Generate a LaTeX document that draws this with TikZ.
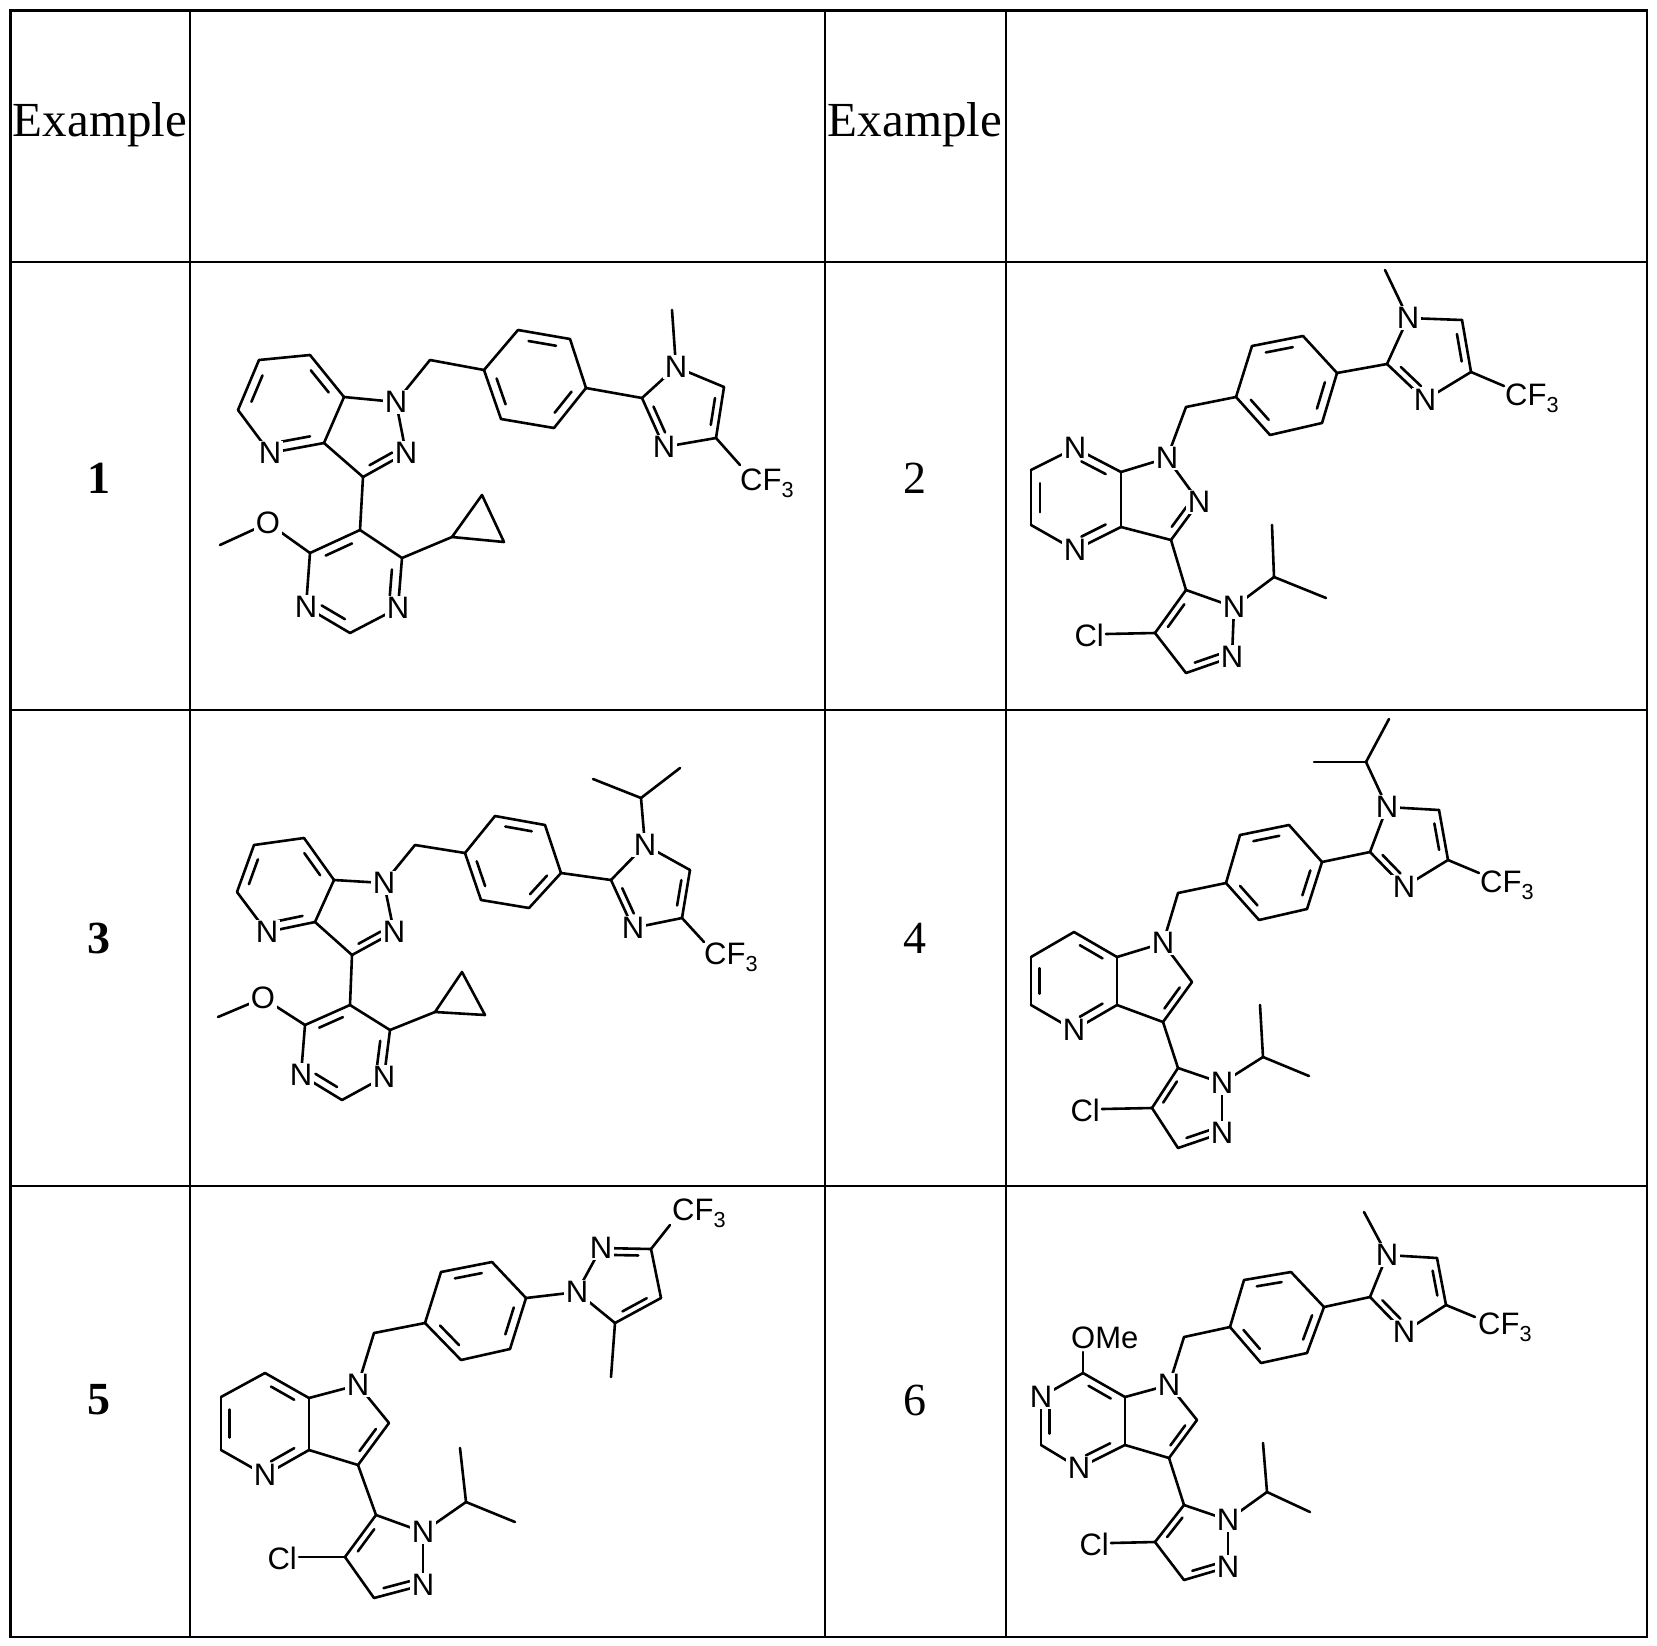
\documentclass[tikz,border=0pt]{standalone}
\usepackage{fontspec}
\setmainfont{Liberation Serif}
\setsansfont{Liberation Sans}
\usetikzlibrary{calc}
\tikzset{bond/.style={line width=2.6pt,line cap=round,line join=round},
 atom/.style={fill=white,inner sep=1.8pt,font=\sffamily\fontsize{31}{31}\selectfont},
 grp/.style={inner sep=0pt,font=\sffamily\fontsize{31}{31}\selectfont},
 hdr/.style={font=\fontsize{49}{49}\selectfont},
 num/.style={font=\fontsize{46}{46}\selectfont},
 grid/.style={line width=2.8pt}}
\newcommand\bnd[2]{\draw[bond] (#1)--(#2);}
\newcommand\dbd[3]{\draw[bond] (#1)--(#2);\draw[bond] ($($(#1)!0.17!(#2)$)!0.2!(#3)$)--($($(#1)!0.83!(#2)$)!0.2!(#3)$);}
\newcommand\lab[2]{\node[atom] (#1L) at (#1) {#2};}
\newcommand\pt[3]{\coordinate (#1) at (#2,#3);}
% type A (examples 1,3)
\newcommand\bondsA[1]{%
 \coordinate (#1cA) at (barycentric cs:#1a1=1,#1a2=1,#1a3=1,#1a4=1,#1a5=1,#1a6=1);
 \coordinate (#1cB) at (barycentric cs:#1a6=1,#1a7=1,#1a8=1,#1a9=1,#1a5=1);
 \coordinate (#1cC) at (barycentric cs:#1b1=1,#1b2=1,#1b3=1,#1b4=1,#1b5=1,#1b6=1);
 \coordinate (#1cE) at (barycentric cs:#1p1=1,#1p2=1,#1p3=1,#1p4=1,#1p5=1,#1p6=1);
 \dbd{#1a1}{#1a6}{#1cA}\bnd{#1a1}{#1a2}\dbd{#1a2}{#1a3}{#1cA}\bnd{#1a3}{#1a4}\dbd{#1a4}{#1a5}{#1cA}\bnd{#1a5}{#1a6}
 \bnd{#1a6}{#1a7}\bnd{#1a7}{#1a8}\dbd{#1a8}{#1a9}{#1cB}\bnd{#1a9}{#1a5}
 \bnd{#1a7}{#1a10}\bnd{#1a10}{#1b1}
 \bnd{#1b1}{#1b2}\dbd{#1b2}{#1b3}{#1cC}\bnd{#1b3}{#1b4}\dbd{#1b4}{#1b5}{#1cC}\bnd{#1b5}{#1b6}\dbd{#1b6}{#1b1}{#1cC}
 \bnd{#1a9}{#1p1}
 \dbd{#1p1}{#1p2}{#1cE}\bnd{#1p2}{#1p3}\dbd{#1p3}{#1p4}{#1cE}\bnd{#1p4}{#1p5}\dbd{#1p5}{#1p6}{#1cE}\bnd{#1p6}{#1p1}
 \bnd{#1p2}{#1O}\bnd{#1O}{#1ome}\bnd{#1p6}{#1cp1}\draw[bond] (#1cp1)--(#1cp2)--(#1cp3)--cycle;}
\newcommand\labsA[1]{\lab{#1a4}{N}\lab{#1a7}{N}\lab{#1a8}{N}\lab{#1p3}{N}\lab{#1p5}{N}\lab{#1O}{O}}
% type B (examples 2,4,5,6)
\newcommand\bondsB[1]{%
 \coordinate (#1cs) at (barycentric cs:#1s1=1,#1s2=1,#1s3=1,#1s4=1,#1s5=1,#1s6=1);
 \coordinate (#1cf) at (barycentric cs:#1s5=1,#1s6=1,#1f1=1,#1f2=1,#1f3=1);
 \coordinate (#1cb) at (barycentric cs:#1b1=1,#1b2=1,#1b3=1,#1b4=1,#1b5=1,#1b6=1);
 \coordinate (#1cq) at (barycentric cs:#1q1=1,#1q2=1,#1q3=1,#1q4=1,#1q5=1);
 \dbd{#1s1}{#1s6}{#1cs}\bnd{#1s1}{#1s2}\dbd{#1s2}{#1s3}{#1cs}\bnd{#1s3}{#1s4}\dbd{#1s4}{#1s5}{#1cs}\bnd{#1s5}{#1s6}
 \bnd{#1s6}{#1f1}\bnd{#1f1}{#1f2}\dbd{#1f2}{#1f3}{#1cf}\bnd{#1f3}{#1s5}
 \bnd{#1f1}{#1ch}\bnd{#1ch}{#1b1}
 \bnd{#1b1}{#1b2}\dbd{#1b2}{#1b3}{#1cb}\bnd{#1b3}{#1b4}\dbd{#1b4}{#1b5}{#1cb}\bnd{#1b5}{#1b6}\dbd{#1b6}{#1b1}{#1cb}
 \bnd{#1f3}{#1q1}
 \dbd{#1q1}{#1q5}{#1cq}\bnd{#1q1}{#1q2}\bnd{#1q2}{#1q3}\dbd{#1q3}{#1q4}{#1cq}\bnd{#1q4}{#1q5}
 \bnd{#1q5}{#1clb}\bnd{#1q2}{#1ip}\bnd{#1ip}{#1up}\bnd{#1ip}{#1rt}}
\newcommand\labsB[1]{\lab{#1f1}{N}\lab{#1q2}{N}\lab{#1q3}{N}\node[grp,anchor=east] (#1Cl) at ($(#1clb)+(-2,1)$) {Cl};}
% imidazole
\newcommand\bondsI[1]{%
 \coordinate (#1ci) at (barycentric cs:#1i1=1,#1i2=1,#1i3=1,#1i4=1,#1i5=1);
 \bnd{#1b4}{#1i1}\bnd{#1i1}{#1i2}\bnd{#1i2}{#1i3}\dbd{#1i3}{#1i4}{#1ci}\bnd{#1i4}{#1i5}\dbd{#1i5}{#1i1}{#1ci}\bnd{#1i4}{#1cfb}}
\newcommand\labsI[1]{\lab{#1i2}{N}\lab{#1i5}{N}\node[grp,anchor=west] (#1CF) at (#1cft) {CF\textsubscript{3}};}
\begin{document}
\begin{tikzpicture}[x=1pt,y=-1pt]
\useasboundingbox (0,0) rectangle (1657,1646);
\fill[white] (0,0) rectangle (1657,1646);
% table
\draw[grid] (10.6,10.6) rectangle (1647,1637);
\foreach \x in {190,825,1006} \draw[grid] (\x,10.6)--(\x,1637);
\foreach \y in {262,710,1186} \draw[grid] (10.6,\y)--(1647,\y);
\node[hdr] (h1) at (100,125) {Example};
\node[hdr] (h2) at (915,125) {Example};
\node[num] (n1) at (99,478) {\textbf{1}};
\node[num] (n2) at (915,478) {2};
\node[num] (n3) at (99,938) {\textbf{3}};
\node[num] (n4) at (915,938) {4};
\node[num] (n5) at (99,1400) {\textbf{5}};
\node[num] (n6) at (915,1400) {6};
% ---------- Example 1
\pt{Aa1}{310}{355}\pt{Aa2}{259}{360}\pt{Aa3}{238}{410}\pt{Aa4}{270}{453}\pt{Aa5}{324}{443}\pt{Aa6}{344}{397}
\pt{Aa7}{396}{402}\pt{Aa8}{406}{453}\pt{Aa9}{363}{477}\pt{Aa10}{430}{360}
\pt{Ab1}{484}{370}\pt{Ab2}{518}{330}\pt{Ab3}{570}{339}\pt{Ab4}{586}{388}\pt{Ab5}{554}{428}\pt{Ab6}{501}{419}
\pt{Ai1}{642}{398}\pt{Ai2}{676}{367}\pt{Ai3}{724}{387}\pt{Ai4}{716}{438}\pt{Ai5}{664}{447}
\pt{Ame}{672}{310}\pt{Acfb}{740}{465}\pt{Acft}{740}{483}
\pt{Ap1}{360}{530}\pt{Ap2}{310}{553}\pt{Ap3}{306}{607}\pt{Ap4}{350}{633}\pt{Ap5}{398}{608}\pt{Ap6}{402}{558}
\pt{AO}{268}{523}\pt{Aome}{220}{545}\pt{Acp1}{452}{537}\pt{Acp2}{482}{495}\pt{Acp3}{504}{542}
\bondsA{A}\bondsI{A}\bnd{Ai2}{Ame}\labsA{A}\labsI{A}
% ---------- Example 3
\pt{Ca1}{304}{838}\pt{Ca2}{254}{845}\pt{Ca3}{237}{892}\pt{Ca4}{267}{932}\pt{Ca5}{315}{922}\pt{Ca6}{334}{880}
\pt{Ca7}{384}{883}\pt{Ca8}{394}{932}\pt{Ca9}{352}{955}\pt{Ca10}{415}{845}
\pt{Cb1}{465}{853}\pt{Cb2}{495}{816}\pt{Cb3}{545}{825}\pt{Cb4}{561}{873}\pt{Cb5}{529}{908}\pt{Cb6}{481}{900}
\pt{Ci1}{611}{880}\pt{Ci2}{645}{845}\pt{Ci3}{690}{870}\pt{Ci4}{682}{918}\pt{Ci5}{633}{928}
\pt{Cip}{641}{798}\pt{CL}{593}{779}\pt{CR}{680}{768}\pt{Ccfb}{704}{942}\pt{Ccft}{704}{957}
\pt{Cp1}{350}{1005}\pt{Cp2}{305}{1025}\pt{Cp3}{301}{1075}\pt{Cp4}{342}{1100}\pt{Cp5}{384}{1077}\pt{Cp6}{390}{1030}
\pt{CO}{263}{998}\pt{Come}{218}{1017}\pt{Ccp1}{435}{1012}\pt{Ccp2}{462}{972}\pt{Ccp3}{485}{1015}
\bondsA{C}\bondsI{C}\bnd{Ci2}{Cip}\bnd{Cip}{CL}\bnd{Cip}{CR}\labsA{C}\labsI{C}
% ---------- Example 2
\pt{Bs1}{1075}{448}\pt{Bs2}{1031}{470}\pt{Bs3}{1031}{525}\pt{Bs4}{1075}{550}\pt{Bs5}{1121}{527}\pt{Bs6}{1121}{472}
\pt{Bf1}{1167}{458}\pt{Bf2}{1199}{502}\pt{Bf3}{1171}{540}\pt{Bch}{1186}{407}
\pt{Bb1}{1236}{397}\pt{Bb2}{1252}{346}\pt{Bb3}{1303}{336}\pt{Bb4}{1337}{373}\pt{Bb5}{1322}{423}\pt{Bb6}{1270}{435}
\pt{Bi1}{1387}{364}\pt{Bi2}{1408}{318}\pt{Bi3}{1462}{320}\pt{Bi4}{1471}{372}\pt{Bi5}{1425}{400}
\pt{Bme}{1385}{270}\pt{Bcfb}{1504}{386}\pt{Bcft}{1505}{398}
\pt{Bq1}{1186}{590}\pt{Bq2}{1234}{607}\pt{Bq3}{1232}{657}\pt{Bq4}{1186}{673}\pt{Bq5}{1155}{633}
\pt{Bclb}{1106}{634}\pt{Bip}{1274}{577}\pt{Bup}{1272}{525}\pt{Brt}{1326}{598}
\bondsB{B}\bondsI{B}\bnd{Bi2}{Bme}\labsB{B}\labsI{B}\lab{Bs1}{N}\lab{Bs4}{N}\lab{Bf2}{N}
% ---------- Example 4
\pt{Ds1}{1074}{932}\pt{Ds2}{1031}{957}\pt{Ds3}{1031}{1005}\pt{Ds4}{1074}{1030}\pt{Ds5}{1117}{1005}\pt{Ds6}{1117}{957}
\pt{Df1}{1163}{943}\pt{Df2}{1192}{982}\pt{Df3}{1163}{1022}\pt{Dch}{1178}{893}
\pt{Db1}{1226}{883}\pt{Db2}{1240}{835}\pt{Db3}{1289}{825}\pt{Db4}{1322}{862}\pt{Db5}{1307}{909}\pt{Db6}{1259}{920}
\pt{Di1}{1370}{852}\pt{Di2}{1387}{807}\pt{Di3}{1439}{810}\pt{Di4}{1448}{860}\pt{Di5}{1404}{887}
\pt{Dtip}{1366}{762}\pt{DL}{1314}{762}\pt{DR}{1389}{719}\pt{Dcfb}{1479}{873}\pt{Dcft}{1480}{885}
\pt{Dq1}{1178}{1068}\pt{Dq2}{1222}{1083}\pt{Dq3}{1222}{1133}\pt{Dq4}{1178}{1148}\pt{Dq5}{1152}{1108}
\pt{Dclb}{1102}{1109}\pt{Dip}{1263}{1057}\pt{Dup}{1260}{1005}\pt{Drt}{1309}{1076}
\bondsB{D}\bondsI{D}\bnd{Di2}{Dtip}\bnd{Dtip}{DL}\bnd{Dtip}{DR}\labsB{D}\labsI{D}\lab{Ds4}{N}
% ---------- Example 5
\pt{Es1}{265}{1373}\pt{Es2}{221}{1397}\pt{Es3}{221}{1450}\pt{Es4}{265}{1475}\pt{Es5}{309}{1450}\pt{Es6}{309}{1398}
\pt{Ef1}{358}{1385}\pt{Ef2}{389}{1423}\pt{Ef3}{358}{1465}\pt{Ech}{374}{1333}
\pt{Eb1}{425}{1323}\pt{Eb2}{441}{1272}\pt{Eb3}{492}{1262}\pt{Eb4}{526}{1298}\pt{Eb5}{510}{1349}\pt{Eb6}{461}{1360}
\pt{Et1}{577}{1292}\pt{Et2}{601}{1248}\pt{Et3}{651}{1249}\pt{Et4}{661}{1298}\pt{Et5}{615}{1323}
\pt{Etme}{611}{1377}\pt{Ecfb}{670}{1225}\pt{Ecft}{672}{1213}
\pt{Eq1}{376}{1515}\pt{Eq2}{423}{1532}\pt{Eq3}{423}{1585}\pt{Eq4}{374}{1598}\pt{Eq5}{345}{1557}
\pt{Eclb}{299}{1557}\pt{Eip}{466}{1502}\pt{Eup}{460}{1448}\pt{Ert}{515}{1522}
\bondsB{E}
\coordinate (Ect) at (barycentric cs:Et1=1,Et2=1,Et3=1,Et4=1,Et5=1);
\bnd{Eb4}{Et1}\bnd{Et1}{Et2}\dbd{Et2}{Et3}{Ect}\bnd{Et3}{Et4}\dbd{Et4}{Et5}{Ect}\bnd{Et5}{Et1}
\bnd{Et5}{Etme}\bnd{Et3}{Ecfb}
\labsB{E}\lab{Es4}{N}\lab{Et1}{N}\lab{Et2}{N}
\node[grp,anchor=west] (ECF) at (Ecft) {CF\textsubscript{3}};
% ---------- Example 6
\pt{Fs1}{1083}{1373}\pt{Fs2}{1041}{1397}\pt{Fs3}{1041}{1445}\pt{Fs4}{1079}{1468}\pt{Fs5}{1125}{1445}\pt{Fs6}{1125}{1397}
\pt{Ff1}{1169}{1385}\pt{Ff2}{1197}{1420}\pt{Ff3}{1169}{1458}\pt{Fch}{1184}{1337}
\pt{Fb1}{1230}{1327}\pt{Fb2}{1244}{1280}\pt{Fb3}{1291}{1272}\pt{Fb4}{1324}{1307}\pt{Fb5}{1307}{1353}\pt{Fb6}{1261}{1363}
\pt{Fi1}{1370}{1297}\pt{Fi2}{1387}{1255}\pt{Fi3}{1437}{1258}\pt{Fi4}{1446}{1305}\pt{Fi5}{1404}{1332}
\pt{Fme}{1364}{1212}\pt{Fcfb}{1475}{1317}\pt{Fcft}{1478}{1327}
\pt{Fq1}{1184}{1505}\pt{Fq2}{1228}{1520}\pt{Fq3}{1228}{1567}\pt{Fq4}{1184}{1580}\pt{Fq5}{1155}{1542}
\pt{Fclb}{1111}{1543}\pt{Fip}{1267}{1492}\pt{Fup}{1263}{1443}\pt{Frt}{1310}{1512}
\pt{Fomb}{1083}{1352}
\bondsB{F}\bondsI{F}\bnd{Fi2}{Fme}\bnd{Fs1}{Fomb}
\labsB{F}\labsI{F}\lab{Fs2}{N}\lab{Fs4}{N}
\node[grp,anchor=south west] (FOMe) at ($(Fomb)+(-12,-3)$) {OMe};
\end{tikzpicture}
\end{document}
